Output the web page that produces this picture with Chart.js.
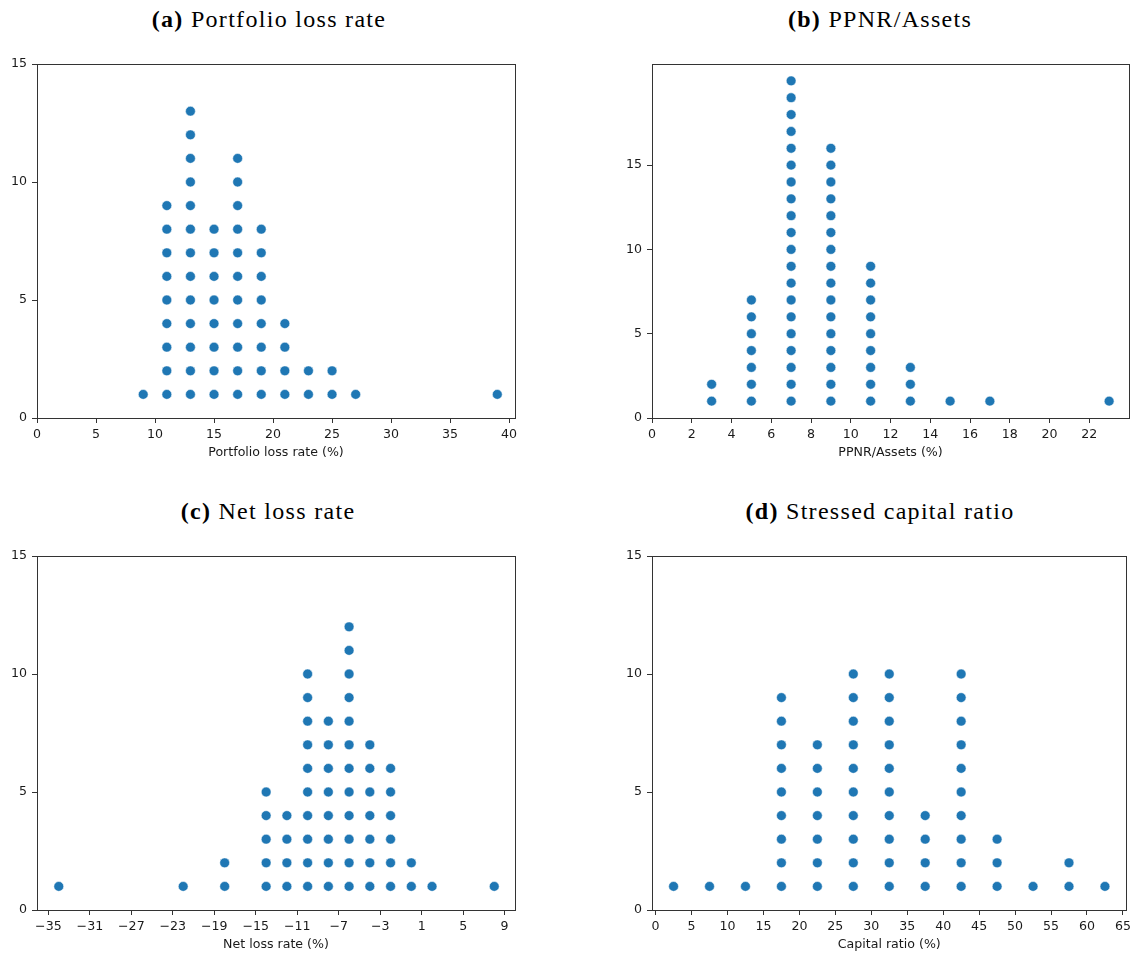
<!DOCTYPE html>
<html>
<head>
<meta charset="utf-8">
<script src="https://cdn.jsdelivr.net/npm/chart.js@4.4.1/dist/chart.umd.min.js"></script>
<style>
  html, body { margin: 0; padding: 0; background: #fff; overflow: hidden; }
  body { width: 1135px; height: 954px; position: relative; }
  canvas { position: absolute; }
  .title {
    position: absolute;
    font-family: "Liberation Serif", serif;
    font-size: 24px;
    letter-spacing: 1.3px;
    color: #000;
    white-space: nowrap;
    transform: translate(-50%, -50%);
  }
</style>
</head>
<body>
<div class="title" style="left:269px;top:19px"><b>(a)</b> Portfolio loss rate</div>
<div class="title" style="left:880px;top:19px"><b>(b)</b> PPNR/Assets</div>
<div class="title" style="left:268px;top:511px"><b>(c)</b> Net loss rate</div>
<div class="title" style="left:880px;top:511px"><b>(d)</b> Stressed capital ratio</div>

<canvas id="chartA" width="535" height="416" style="left:0px;top:44px"></canvas>
<canvas id="chartB" width="520" height="416" style="left:615px;top:44px"></canvas>
<canvas id="chartC" width="535" height="416" style="left:0px;top:536px"></canvas>
<canvas id="chartD" width="520" height="416" style="left:615px;top:536px"></canvas>

<script>
// dot plot data: bin value and number of banks stacked on it
const lossRateBins = [9, 11, 13, 15, 17, 19, 21, 23, 25, 27, 39];
const lossRateCounts = [1, 9, 13, 8, 11, 8, 4, 2, 2, 1, 1];

const ppnrBins = [3, 5, 7, 9, 11, 13, 15, 17, 23];
const ppnrCounts = [2, 7, 20, 16, 9, 3, 1, 1, 1];

const netLossBins = [-34, -22, -18, -14, -12, -10, -8, -6, -4, -2, 0, 2, 8];
const netLossCounts = [1, 1, 2, 5, 4, 10, 8, 12, 7, 6, 2, 1, 1];

const capitalBins = [2.5, 7.5, 12.5, 17.5, 22.5, 27.5, 32.5, 37.5, 42.5, 47.5, 52.5, 57.5, 62.5];
const capitalCounts = [1, 1, 1, 9, 7, 10, 10, 4, 10, 3, 1, 2, 1];

// tick labels
const countTicks = [0, 5, 10, 15];
const lossRateTicks = [0, 5, 10, 15, 20, 25, 30, 35, 40];
const ppnrTicks = [0, 2, 4, 6, 8, 10, 12, 14, 16, 18, 20, 22];
const netLossTicks = [-35, -31, -27, -23, -19, -15, -11, -7, -3, 1, 5, 9];
const capitalTicks = [0, 5, 10, 15, 20, 25, 30, 35, 40, 45, 50, 55, 60, 65];

const fmt = (v) => v < 0 ? '\u2212' + Math.abs(v) : String(v);

const makePanel = (id, bins, counts, xTicks, xMin, xMax, yMax, xLabel, padRight) => {
    let points = [];
    bins.forEach((b, i) => {
        for (let k = 1; k <= counts[i]; k++) {
            points.push({ x: b, y: k });
        }
    });

    const tickFont = { family: 'DejaVu Sans', size: 12.6 };
    const axisLine = '#333333';

    new Chart(document.getElementById(id).getContext('2d'), {
        type: 'scatter',
        data: {
            datasets: [{
                data: points,
                backgroundColor: '#1f77b4',
                borderColor: 'rgba(255,255,255,0.85)',
                borderWidth: 0.6,
                pointRadius: 4.9,
                pointHoverRadius: 4.9
            }]
        },
        options: {
            responsive: false,
            animation: false,
            events: [],
            layout: { padding: { left: 0, right: padRight, top: 20, bottom: 0 } },
            plugins: {
                legend: { display: false },
                tooltip: { enabled: false }
            },
            scales: {
                x: {
                    type: 'linear',
                    position: 'bottom',
                    min: xMin,
                    max: xMax,
                    afterBuildTicks: (s) => { s.ticks = xTicks.map(v => ({ value: v })); },
                    afterFit: (s) => { s.height = 42; },
                    ticks: {
                        color: '#1a1a1a',
                        font: tickFont,
                        padding: 4,
                        maxRotation: 0,
                        autoSkip: false,
                        callback: fmt
                    },
                    grid: {
                        display: true,
                        drawOnChartArea: false,
                        drawTicks: true,
                        tickLength: 5,
                        color: axisLine
                    },
                    border: { display: true, color: axisLine, width: 1 },
                    title: {
                        display: true,
                        text: xLabel,
                        color: '#1a1a1a',
                        font: tickFont,
                        padding: { top: 0, bottom: 0 }
                    }
                },
                y: {
                    type: 'linear',
                    position: 'left',
                    min: 0,
                    max: yMax,
                    afterBuildTicks: (s) => { s.ticks = countTicks.map(v => ({ value: v })); },
                    afterFit: (s) => { s.width = 37; },
                    ticks: {
                        color: '#1a1a1a',
                        font: tickFont,
                        padding: 5,
                        autoSkip: false
                    },
                    grid: {
                        display: true,
                        drawOnChartArea: false,
                        drawTicks: true,
                        tickLength: 5,
                        color: axisLine
                    },
                    border: { display: true, color: axisLine, width: 1 }
                },
                xTop: {
                    type: 'linear',
                    position: 'top',
                    afterFit: (s) => { s.height = 0; },
                    ticks: { display: false },
                    grid: { display: true, drawOnChartArea: false, drawTicks: false },
                    border: { display: true, color: axisLine, width: 1 }
                },
                yRight: {
                    type: 'linear',
                    position: 'right',
                    afterFit: (s) => { s.width = 0; },
                    ticks: { display: false },
                    grid: { display: true, drawOnChartArea: false, drawTicks: false },
                    border: { display: true, color: axisLine, width: 1 }
                }
            }
        }
    });
};

makePanel('chartA', lossRateBins, lossRateCounts, lossRateTicks, 0, 40.5, 15, 'Portfolio loss rate (%)', 20);
makePanel('chartB', ppnrBins, ppnrCounts, ppnrTicks, 0, 24, 21, 'PPNR/Assets (%)', 6);
makePanel('chartC', netLossBins, netLossCounts, netLossTicks, -36.1, 10, 15, 'Net loss rate (%)', 20);
makePanel('chartD', capitalBins, capitalCounts, capitalTicks, -0.5, 65.5, 15, 'Capital ratio (%)', 6);
</script>
</body>
</html>
